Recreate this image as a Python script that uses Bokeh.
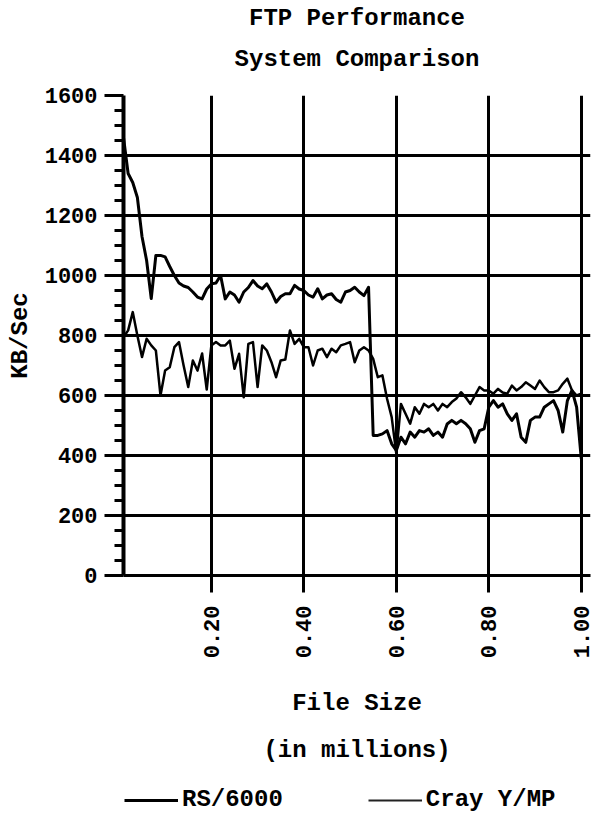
import math
from bokeh.plotting import figure
from bokeh.layouts import column
from bokeh.models import Range1d, FixedTicker, NumeralTickFormatter, Title, Legend, LegendItem
from bokeh.embed import file_html
from bokeh.resources import INLINE

# ---- data ----
file_size = [round(0.01 * i, 2) for i in range(1, 101)]

rs6000 = [1460, 1340, 1310, 1260, 1130, 1050, 923, 1067, 1067, 1062,
          1030, 1000, 975, 965, 960, 945, 928, 922, 955, 972,
          975, 1000, 922, 945, 935, 911, 945, 960, 983, 965,
          956, 972, 945, 911, 930, 939, 939, 967, 955, 950,
          935, 928, 956, 922, 935, 939, 920, 911, 945, 950,
          961, 945, 933, 961, 467, 467, 472, 483, 439, 417,
          461, 439, 478, 461, 483, 478, 489, 467, 478, 461,
          505, 517, 506, 517, 506, 489, 444, 483, 489, 561,
          583, 561, 572, 539, 517, 539, 461, 444, 517, 528,
          528, 561, 572, 583, 550, 478, 583, 617, 561, 390]

cray_ymp = [794, 817, 878, 800, 728, 789, 767, 750, 600, 683,
            694, 761, 778, 700, 628, 717, 683, 740, 620, 767,
            778, 767, 767, 783, 689, 739, 594, 772, 778, 628,
            767, 750, 711, 661, 717, 720, 817, 772, 789, 761,
            761, 700, 750, 756, 728, 756, 744, 767, 772, 778,
            711, 750, 761, 750, 722, 661, 667, 589, 528, 406,
            572, 539, 506, 561, 539, 572, 561, 572, 550, 572,
            561, 578, 590, 611, 594, 572, 600, 628, 617, 617,
            606, 622, 610, 606, 633, 617, 628, 644, 633, 622,
            650, 628, 611, 611, 617, 639, 656, 617, 600, 606]

x_ticks = [0.2, 0.4, 0.6, 0.8, 1.0]
y_ticks = [0, 200, 400, 600, 800, 1000, 1200, 1400, 1600]
y_minor = [v for v in range(0, 1600, 50) if v % 200 != 0]

title_main = "FTP Performance"
title_sub = "System Comparison"
x_label_1 = "File Size"
x_label_2 = "(in millions)"
y_label = "KB/Sec"
series_names = ["RS/6000", "Cray Y/MP"]

FONT = "Liberation Mono"

p = figure(width=606, height=781, output_backend="svg", toolbar_location=None,
           x_range=Range1d(0.01, 1.02), y_range=Range1d(0, 1600),
           min_border_left=123, min_border_right=16,
           min_border_top=95, min_border_bottom=206,
           title=title_main)
p.outline_line_color = None
p.background_fill_color = "white"
p.border_fill_color = "white"

# farther title (top line)
p.title.text_font = FONT
p.title.text_font_style = "bold"
p.title.text_font_size = "24px"
p.title.text_color = "black"
p.title.align = "center"
p.title.standoff = -20
# closer title (second line)
p.add_layout(Title(text=title_sub, align="center", text_font=FONT, text_color="black",
                   text_font_style="bold", text_font_size="24px", standoff=45), "above")

# axes
xa = p.xaxis[0]
xa.ticker = FixedTicker(ticks=x_ticks)
xa.formatter = NumeralTickFormatter(format="0.00")
xa.major_label_orientation = math.pi / 2
xa.major_tick_out = 17
xa.major_tick_in = 0
xa.minor_tick_out = 0
xa.minor_tick_in = 0
xa.axis_line_width = 3
xa.major_tick_line_width = 3
xa.major_label_standoff = 13
xa.major_label_text_font = FONT
xa.major_label_text_font_style = "bold"
xa.major_label_text_font_size = "22px"
xa.major_label_text_color = "black"
xa.axis_label = x_label_1
xa.axis_label_standoff = 29
xa.axis_label_text_font = FONT
xa.axis_label_text_font_style = "bold"
xa.axis_label_text_font_size = "24px"
xa.axis_label_text_color = "black"

ya = p.yaxis[0]
ya.ticker = FixedTicker(ticks=y_ticks, minor_ticks=y_minor)
ya.major_tick_out = 19
ya.major_tick_in = 0
ya.minor_tick_out = 9
ya.minor_tick_in = 0
ya.axis_line_width = 4
ya.major_tick_line_width = 3
ya.minor_tick_line_width = 3
ya.major_label_standoff = 7
ya.major_label_text_font = FONT
ya.major_label_text_font_style = "bold"
ya.major_label_text_font_size = "22px"
ya.major_label_text_color = "black"
ya.axis_label = y_label
ya.axis_label_standoff = 8
ya.axis_label_text_font = FONT
ya.axis_label_text_font_style = "bold"
ya.axis_label_text_font_size = "24px"
ya.axis_label_text_color = "black"

p.xgrid.grid_line_color = "black"
p.xgrid.grid_line_width = 3
p.ygrid.grid_line_color = "black"
p.ygrid.grid_line_width = 3

p.add_layout(Title(text=x_label_2, align="center",
                   text_font=FONT, text_color="black",
                   text_font_style="bold", text_font_size="24px", standoff=29), "below")

p.line(file_size, rs6000, line_color="black", line_width=3, line_join="round")
p.line(file_size, cray_ymp, line_color="black", line_width=2.5, line_join="round")

# legend strip: a second, axis-less figure under the chart; its ranges keep the
# series themselves out of view so only the legend samples show
p2 = figure(width=606, height=36, output_backend="svg", toolbar_location=None,
            x_range=Range1d(0, 1), y_range=Range1d(-2, -1),
            x_axis_type=None, y_axis_type=None, min_border=0)
p2.outline_line_color = None
p2.background_fill_color = "white"
p2.border_fill_color = "white"
k1 = p2.line(file_size, rs6000, line_color="black", line_width=3)
k2 = p2.line(file_size, cray_ymp, line_color="#222222", line_width=2)

legend = Legend(items=[LegendItem(label=series_names[0], renderers=[k1]),
                       LegendItem(label=series_names[1], renderers=[k2])],
                location=(1, 4), orientation="horizontal",
                glyph_width=54, glyph_height=20, label_height=20,
                label_standoff=4, spacing=85, padding=0, margin=0,
                border_line_alpha=0, background_fill_alpha=0,
                label_text_font=FONT, label_text_font_style="bold",
                label_text_font_size="24px", label_text_color="black")
p2.add_layout(legend)

layout = column(p, p2, spacing=0)
open("out.html", "w").write(file_html(layout, INLINE))
